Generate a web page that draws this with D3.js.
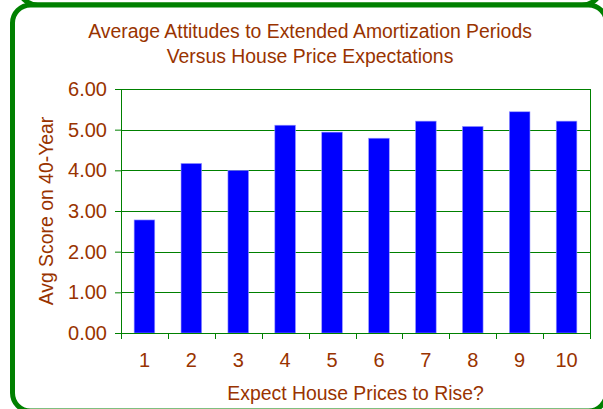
<!DOCTYPE html>
<meta charset="UTF-8">
<head>
<title>Attitudes to Extended Amortization</title>
<style>
body { margin: 0; background: #fff; }
.tick text { fill: #993300; font: 20px "Liberation Sans", Arial, sans-serif; }
.title, .axis-title { fill: #993300; font-family: "Liberation Sans", Arial, sans-serif; }
</style>
</head>
<body>
<script src="https://d3js.org/d3.v7.min.js"></script>
<script>

var categories = ["1", "2", "3", "4", "5", "6", "7", "8", "9", "10"];
var scores = [2.78, 4.17, 4.00, 5.11, 4.94, 4.79, 5.21, 5.08, 5.44, 5.21];
var yTicks = [0, 1, 2, 3, 4, 5, 6];

var W = 603, H = 409;
var margin = {top: 89, right: 13, bottom: 76, left: 121},
    width = W - margin.left - margin.right,
    height = H - margin.top - margin.bottom;

var green = "#008000", brown = "#993300";

var svg = d3.select("body").append("svg")
    .attr("width", W)
    .attr("height", H);

// frame (the top hooks belong to the box above, which is cut off)
svg.append("rect")
    .attr("x", 18).attr("y", -200)
    .attr("width", 584).attr("height", 205)
    .attr("rx", 20)
    .attr("fill", "none").attr("stroke", green).attr("stroke-width", 5);
svg.append("rect")
    .attr("x", 12.5).attr("y", 5)
    .attr("width", 594).attr("height", 406)
    .attr("rx", 18)
    .attr("fill", "#fff").attr("stroke", green).attr("stroke-width", 5);

svg.append("text").attr("class", "title")
    .attr("x", 310).attr("y", 38)
    .attr("text-anchor", "middle").attr("font-size", 19.4)
    .text("Average Attitudes to Extended Amortization Periods");
svg.append("text").attr("class", "title")
    .attr("x", 310).attr("y", 63)
    .attr("text-anchor", "middle").attr("font-size", 19.4)
    .text("Versus House Price Expectations");

var g = svg.append("g")
    .attr("transform", "translate(" + margin.left + "," + margin.top + ")");

var x = d3.scaleBand().domain(categories).range([0, width]).paddingInner(0.56).paddingOuter(0.28);
var xb = d3.scaleLinear().domain([0, categories.length]).range([0, width]);
var y = d3.scaleLinear().domain([0, 6]).range([height, 0]);

// gridlines
g.selectAll("line.grid")
    .data(yTicks)
  .enter().append("line")
    .attr("class", "grid")
    .attr("x1", 0).attr("x2", width)
    .attr("y1", function(d) { return Math.round(y(d)) + 0.5; })
    .attr("y2", function(d) { return Math.round(y(d)) + 0.5; })
    .attr("stroke", green).attr("stroke-width", 1);

// right border
g.append("line")
    .attr("x1", width + 0.5).attr("x2", width + 0.5)
    .attr("y1", 0).attr("y2", height)
    .attr("stroke", green);

// bars
g.selectAll("rect.bar")
    .data(scores)
  .enter().append("rect")
    .attr("class", "bar")
    .attr("x", function(d, i) { return x(categories[i]); })
    .attr("width", x.bandwidth())
    .attr("y", function(d) { return y(d); })
    .attr("height", function(d) { return height - y(d); })
    .attr("fill", "#0000ff")
    .attr("stroke", "#9999ff").attr("stroke-width", 0.6);

// y axis
var yAxis = g.append("g")
    .call(d3.axisLeft(y).tickValues(yTicks).tickFormat(d3.format(".2f")).tickSize(6).tickPadding(8));
yAxis.selectAll("line, path").attr("stroke", green);
yAxis.select(".domain").attr("d", "M0.5," + height + "V0");

// x axis: labels centred on bars, ticks on category boundaries
var xAxis = g.append("g")
    .attr("transform", "translate(0," + height + ")")
    .call(d3.axisBottom(x).tickSize(0).tickPadding(20));
xAxis.select(".domain").attr("stroke", green).attr("d", "M0,0.5H" + width);
g.append("g")
    .attr("transform", "translate(0," + height + ")")
  .selectAll("line")
    .data(d3.range(categories.length + 1))
  .enter().append("line")
    .attr("x1", function(d) { return Math.round(xb(d)) + 0.5; })
    .attr("x2", function(d) { return Math.round(xb(d)) + 0.5; })
    .attr("y1", 0).attr("y2", 6)
    .attr("stroke", green);

g.append("text").attr("class", "axis-title")
    .attr("x", width / 2).attr("y", height + 67)
    .attr("text-anchor", "middle").attr("font-size", 19.4)
    .text("Expect House Prices to Rise?");

g.append("text").attr("class", "axis-title")
    .attr("transform", "translate(" + (-68) + "," + (height / 2) + ") rotate(-90)")
    .attr("text-anchor", "middle").attr("font-size", 19.4)
    .text("Avg Score on 40-Year");

</script>
</body>
</html>
